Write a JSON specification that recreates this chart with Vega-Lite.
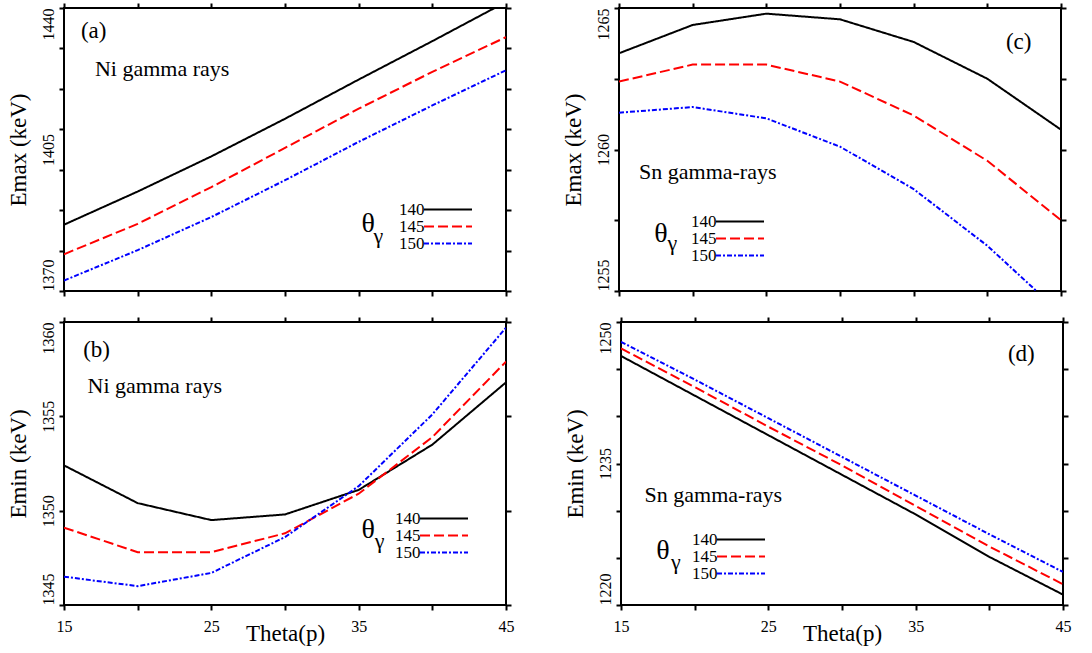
{
  "$schema": "https://vega.github.io/schema/vega-lite/v6.json",
  "background": "white",
  "padding": {"left": 6, "top": 1, "right": 5, "bottom": 0},
  "datasets": {
    "curves": [
      {"panel": "a", "gamma": "140", "theta": 15, "E": 1386.4},
      {"panel": "a", "gamma": "140", "theta": 20, "E": 1394.6},
      {"panel": "a", "gamma": "140", "theta": 25, "E": 1403.3},
      {"panel": "a", "gamma": "140", "theta": 30, "E": 1412.6},
      {"panel": "a", "gamma": "140", "theta": 35, "E": 1422.3},
      {"panel": "a", "gamma": "140", "theta": 40, "E": 1431.8},
      {"panel": "a", "gamma": "140", "theta": 45, "E": 1441.5},
      {"panel": "a", "gamma": "145", "theta": 15, "E": 1379.1},
      {"panel": "a", "gamma": "145", "theta": 20, "E": 1386.6},
      {"panel": "a", "gamma": "145", "theta": 25, "E": 1395.7},
      {"panel": "a", "gamma": "145", "theta": 30, "E": 1405.4},
      {"panel": "a", "gamma": "145", "theta": 35, "E": 1415.1},
      {"panel": "a", "gamma": "145", "theta": 40, "E": 1424.2},
      {"panel": "a", "gamma": "145", "theta": 45, "E": 1432.8},
      {"panel": "a", "gamma": "150", "theta": 15, "E": 1372.6},
      {"panel": "a", "gamma": "150", "theta": 20, "E": 1380.1},
      {"panel": "a", "gamma": "150", "theta": 25, "E": 1388.3},
      {"panel": "a", "gamma": "150", "theta": 30, "E": 1397.4},
      {"panel": "a", "gamma": "150", "theta": 35, "E": 1406.9},
      {"panel": "a", "gamma": "150", "theta": 40, "E": 1415.9},
      {"panel": "a", "gamma": "150", "theta": 45, "E": 1424.6},
      {"panel": "b", "gamma": "140", "theta": 15, "E": 1352.4},
      {"panel": "b", "gamma": "140", "theta": 20, "E": 1350.4},
      {"panel": "b", "gamma": "140", "theta": 25, "E": 1349.5},
      {"panel": "b", "gamma": "140", "theta": 30, "E": 1349.8},
      {"panel": "b", "gamma": "140", "theta": 35, "E": 1351.1},
      {"panel": "b", "gamma": "140", "theta": 40, "E": 1353.5},
      {"panel": "b", "gamma": "140", "theta": 45, "E": 1356.8},
      {"panel": "b", "gamma": "145", "theta": 15, "E": 1349.1},
      {"panel": "b", "gamma": "145", "theta": 20, "E": 1347.8},
      {"panel": "b", "gamma": "145", "theta": 25, "E": 1347.8},
      {"panel": "b", "gamma": "145", "theta": 30, "E": 1348.8},
      {"panel": "b", "gamma": "145", "theta": 35, "E": 1350.9},
      {"panel": "b", "gamma": "145", "theta": 40, "E": 1353.9},
      {"panel": "b", "gamma": "145", "theta": 45, "E": 1357.9},
      {"panel": "b", "gamma": "150", "theta": 15, "E": 1346.5},
      {"panel": "b", "gamma": "150", "theta": 20, "E": 1346.0},
      {"panel": "b", "gamma": "150", "theta": 25, "E": 1346.7},
      {"panel": "b", "gamma": "150", "theta": 30, "E": 1348.6},
      {"panel": "b", "gamma": "150", "theta": 35, "E": 1351.3},
      {"panel": "b", "gamma": "150", "theta": 40, "E": 1355.1},
      {"panel": "b", "gamma": "150", "theta": 45, "E": 1359.7},
      {"panel": "c", "gamma": "140", "theta": 15, "E": 1263.4},
      {"panel": "c", "gamma": "140", "theta": 20, "E": 1264.4},
      {"panel": "c", "gamma": "140", "theta": 25, "E": 1264.8},
      {"panel": "c", "gamma": "140", "theta": 30, "E": 1264.6},
      {"panel": "c", "gamma": "140", "theta": 35, "E": 1263.8},
      {"panel": "c", "gamma": "140", "theta": 40, "E": 1262.5},
      {"panel": "c", "gamma": "140", "theta": 45, "E": 1260.7},
      {"panel": "c", "gamma": "145", "theta": 15, "E": 1262.4},
      {"panel": "c", "gamma": "145", "theta": 20, "E": 1263.0},
      {"panel": "c", "gamma": "145", "theta": 25, "E": 1263.0},
      {"panel": "c", "gamma": "145", "theta": 30, "E": 1262.4},
      {"panel": "c", "gamma": "145", "theta": 35, "E": 1261.2},
      {"panel": "c", "gamma": "145", "theta": 40, "E": 1259.6},
      {"panel": "c", "gamma": "145", "theta": 45, "E": 1257.5},
      {"panel": "c", "gamma": "150", "theta": 15, "E": 1261.3},
      {"panel": "c", "gamma": "150", "theta": 20, "E": 1261.5},
      {"panel": "c", "gamma": "150", "theta": 25, "E": 1261.1},
      {"panel": "c", "gamma": "150", "theta": 30, "E": 1260.1},
      {"panel": "c", "gamma": "150", "theta": 35, "E": 1258.6},
      {"panel": "c", "gamma": "150", "theta": 40, "E": 1256.6},
      {"panel": "c", "gamma": "150", "theta": 45, "E": 1254.2},
      {"panel": "d", "gamma": "140", "theta": 15, "E": 1246.4},
      {"panel": "d", "gamma": "140", "theta": 20, "E": 1242.2},
      {"panel": "d", "gamma": "140", "theta": 25, "E": 1238.0},
      {"panel": "d", "gamma": "140", "theta": 30, "E": 1233.8},
      {"panel": "d", "gamma": "140", "theta": 35, "E": 1229.6},
      {"panel": "d", "gamma": "140", "theta": 40, "E": 1225.1},
      {"panel": "d", "gamma": "140", "theta": 45, "E": 1221.1},
      {"panel": "d", "gamma": "145", "theta": 15, "E": 1247.2},
      {"panel": "d", "gamma": "145", "theta": 20, "E": 1243.1},
      {"panel": "d", "gamma": "145", "theta": 25, "E": 1238.9},
      {"panel": "d", "gamma": "145", "theta": 30, "E": 1234.8},
      {"panel": "d", "gamma": "145", "theta": 35, "E": 1230.5},
      {"panel": "d", "gamma": "145", "theta": 40, "E": 1226.2},
      {"panel": "d", "gamma": "145", "theta": 45, "E": 1222.2},
      {"panel": "d", "gamma": "150", "theta": 15, "E": 1247.9},
      {"panel": "d", "gamma": "150", "theta": 20, "E": 1243.9},
      {"panel": "d", "gamma": "150", "theta": 25, "E": 1239.8},
      {"panel": "d", "gamma": "150", "theta": 30, "E": 1235.7},
      {"panel": "d", "gamma": "150", "theta": 35, "E": 1231.6},
      {"panel": "d", "gamma": "150", "theta": 40, "E": 1227.5},
      {"panel": "d", "gamma": "150", "theta": 45, "E": 1223.5}
    ]
  },
  "spacing": 17,
  "resolve": {"legend": {"color": "independent", "strokeDash": "independent"}},
  "vconcat": [
    {
      "spacing": 48,
      "resolve": {"legend": {"color": "independent", "strokeDash": "independent"}},
      "hconcat": [
        {
          "width": 442, "height": 283,
          "resolve": {"axis": {"x": "independent", "y": "independent"}},
          "layer": [
            {
              "data": {"name": "curves"},
              "transform": [{"filter": "datum.panel == 'a'"}],
              "mark": {"type": "line", "clip": true, "strokeWidth": 2},
              "encoding": {
                "x": {"field": "theta", "type": "quantitative", "scale": {"domain": [15, 45], "nice": false, "zero": false},
                      "axis": {"values": [15, 20, 25, 30, 35, 40, 45], "labels": false, "title": null}},
                "y": {"field": "E", "type": "quantitative", "scale": {"domain": [1370, 1440], "nice": false, "zero": false},
                      "axis": {"values": [1370, 1380, 1390, 1400, 1405, 1410, 1420, 1430, 1440],
                               "labelExpr": "(datum.value == 1370 || datum.value == 1405 || datum.value == 1440) ? datum.label : ''",
                               "tickOpacity": {"condition": {"test": "datum.value == 1405", "value": 0}, "value": 1},
                               "labelAlign": {"condition": [{"test": "datum.value == 1440", "value": "right"}, {"test": "datum.value == 1370", "value": "left"}], "value": "center"},
                               "title": "Emax (keV)"}},
                "color": {"field": "gamma", "type": "nominal", "scale": {"domain": ["140", "145", "150"], "range": ["#000000", "#ff0000", "#0000ff"]},
                          "legend": {"orient": "none", "legendX": 360, "legendY": 193}},
                "strokeDash": {"field": "gamma", "type": "nominal", "scale": {"domain": ["140", "145", "150"], "range": [[1, 0], [10, 4], [5, 2, 2, 2]]},
                               "legend": {"orient": "none", "legendX": 360, "legendY": 193}}
              }
            },
            {
              "data": {"name": "curves"},
              "transform": [{"filter": "datum.panel == 'a'"}],
              "mark": {"type": "point", "opacity": 0, "clip": true},
              "encoding": {
                "x": {"field": "theta", "type": "quantitative", "scale": {"domain": [15, 45], "nice": false, "zero": false},
                      "axis": {"orient": "top", "values": [15, 20, 25, 30, 35, 40, 45], "labels": false, "title": null}},
                "y": {"field": "E", "type": "quantitative", "scale": {"domain": [1370, 1440], "nice": false, "zero": false},
                      "axis": {"orient": "right", "values": [1370, 1380, 1390, 1400, 1410, 1420, 1430, 1440], "labels": false, "title": null}}
              }
            },
            {
              "data": {"values": [{}]},
              "mark": {"type": "text", "align": "left", "baseline": "middle", "fontSize": 23},
              "encoding": {"x": {"datum": 16.15, "type": "quantitative", "axis": null}, "y": {"datum": 1434.3, "type": "quantitative", "axis": null}, "text": {"value": "(a)"}}
            },
            {
              "data": {"values": [{}]},
              "mark": {"type": "text", "align": "left", "baseline": "middle", "fontSize": 22},
              "encoding": {"x": {"datum": 17.1, "type": "quantitative", "axis": null}, "y": {"datum": 1425, "type": "quantitative", "axis": null}, "text": {"value": "Ni gamma rays"}}
            },
            {
              "data": {"values": [{}]},
              "mark": {"type": "text", "align": "left", "baseline": "middle", "fontSize": 28},
              "encoding": {"x": {"datum": 35.2, "type": "quantitative", "axis": null}, "y": {"datum": 1386.6, "type": "quantitative", "axis": null}, "text": {"value": "θ"}}
            },
            {
              "data": {"values": [{}]},
              "mark": {"type": "text", "align": "left", "baseline": "middle", "fontSize": 22},
              "encoding": {"x": {"datum": 36.0, "type": "quantitative", "axis": null}, "y": {"datum": 1383.6, "type": "quantitative", "axis": null}, "text": {"value": "γ"}}
            }
          ]
        },
        {
          "width": 442, "height": 283,
          "resolve": {"axis": {"x": "independent", "y": "independent"}},
          "layer": [
            {
              "data": {"name": "curves"},
              "transform": [{"filter": "datum.panel == 'c'"}],
              "mark": {"type": "line", "clip": true, "strokeWidth": 2},
              "encoding": {
                "x": {"field": "theta", "type": "quantitative", "scale": {"domain": [15, 45], "nice": false, "zero": false},
                      "axis": {"values": [15, 20, 25, 30, 35, 40, 45], "labels": false, "title": null}},
                "y": {"field": "E", "type": "quantitative", "scale": {"domain": [1255, 1265], "nice": false, "zero": false},
                      "axis": {"values": [1255, 1257.5, 1260, 1262.5, 1265],
                               "labelExpr": "(datum.value % 5 == 0) ? datum.label : ''",
                               "labelAlign": {"condition": [{"test": "datum.value == 1265", "value": "right"}, {"test": "datum.value == 1255", "value": "left"}], "value": "center"},
                               "title": "Emax (keV)"}},
                "color": {"field": "gamma", "type": "nominal", "scale": {"domain": ["140", "145", "150"], "range": ["#000000", "#ff0000", "#0000ff"]},
                          "legend": {"orient": "none", "legendX": 97, "legendY": 205}},
                "strokeDash": {"field": "gamma", "type": "nominal", "scale": {"domain": ["140", "145", "150"], "range": [[1, 0], [10, 4], [5, 2, 2, 2]]},
                               "legend": {"orient": "none", "legendX": 97, "legendY": 205}}
              }
            },
            {
              "data": {"name": "curves"},
              "transform": [{"filter": "datum.panel == 'c'"}],
              "mark": {"type": "point", "opacity": 0, "clip": true},
              "encoding": {
                "x": {"field": "theta", "type": "quantitative", "scale": {"domain": [15, 45], "nice": false, "zero": false},
                      "axis": {"orient": "top", "values": [15, 20, 25, 30, 35, 40, 45], "labels": false, "title": null}},
                "y": {"field": "E", "type": "quantitative", "scale": {"domain": [1255, 1265], "nice": false, "zero": false},
                      "axis": {"orient": "right", "values": [1255, 1257.5, 1260, 1262.5, 1265], "labels": false, "title": null}}
              }
            },
            {
              "data": {"values": [{}]},
              "mark": {"type": "text", "align": "left", "baseline": "middle", "fontSize": 23},
              "encoding": {"x": {"datum": 41.26, "type": "quantitative", "axis": null}, "y": {"datum": 1263.8, "type": "quantitative", "axis": null}, "text": {"value": "(c)"}}
            },
            {
              "data": {"values": [{}]},
              "mark": {"type": "text", "align": "left", "baseline": "middle", "fontSize": 22},
              "encoding": {"x": {"datum": 16.36, "type": "quantitative", "axis": null}, "y": {"datum": 1259.2, "type": "quantitative", "axis": null}, "text": {"value": "Sn gamma-rays"}}
            },
            {
              "data": {"values": [{}]},
              "mark": {"type": "text", "align": "left", "baseline": "middle", "fontSize": 28},
              "encoding": {"x": {"datum": 17.4, "type": "quantitative", "axis": null}, "y": {"datum": 1257.0, "type": "quantitative", "axis": null}, "text": {"value": "θ"}}
            },
            {
              "data": {"values": [{}]},
              "mark": {"type": "text", "align": "left", "baseline": "middle", "fontSize": 22},
              "encoding": {"x": {"datum": 18.3, "type": "quantitative", "axis": null}, "y": {"datum": 1256.7, "type": "quantitative", "axis": null}, "text": {"value": "γ"}}
            }
          ]
        }
      ]
    },
    {
      "spacing": 48,
      "resolve": {"legend": {"color": "independent", "strokeDash": "independent"}},
      "hconcat": [
        {
          "width": 442, "height": 283,
          "resolve": {"axis": {"x": "independent", "y": "independent"}},
          "layer": [
            {
              "data": {"name": "curves"},
              "transform": [{"filter": "datum.panel == 'b'"}],
              "mark": {"type": "line", "clip": true, "strokeWidth": 2},
              "encoding": {
                "x": {"field": "theta", "type": "quantitative", "scale": {"domain": [15, 45], "nice": false, "zero": false},
                      "axis": {"values": [15, 20, 25, 30, 35, 40, 45], "labelExpr": "(datum.value % 10 == 5) ? datum.label : ''", "title": "Theta(p)"}},
                "y": {"field": "E", "type": "quantitative", "scale": {"domain": [1345, 1360], "nice": false, "zero": false},
                      "axis": {"values": [1345, 1350, 1355, 1360],
                               "labelAlign": {"condition": [{"test": "datum.value == 1360", "value": "right"}, {"test": "datum.value == 1345", "value": "left"}], "value": "center"},
                               "title": "Emin (keV)"}},
                "color": {"field": "gamma", "type": "nominal", "scale": {"domain": ["140", "145", "150"], "range": ["#000000", "#ff0000", "#0000ff"]},
                          "legend": {"orient": "none", "legendX": 356, "legendY": 188}},
                "strokeDash": {"field": "gamma", "type": "nominal", "scale": {"domain": ["140", "145", "150"], "range": [[1, 0], [10, 4], [5, 2, 2, 2]]},
                               "legend": {"orient": "none", "legendX": 356, "legendY": 188}}
              }
            },
            {
              "data": {"name": "curves"},
              "transform": [{"filter": "datum.panel == 'b'"}],
              "mark": {"type": "point", "opacity": 0, "clip": true},
              "encoding": {
                "x": {"field": "theta", "type": "quantitative", "scale": {"domain": [15, 45], "nice": false, "zero": false},
                      "axis": {"orient": "top", "values": [15, 20, 25, 30, 35, 40, 45], "labels": false, "title": null}},
                "y": {"field": "E", "type": "quantitative", "scale": {"domain": [1345, 1360], "nice": false, "zero": false},
                      "axis": {"orient": "right", "values": [1345, 1350, 1355, 1360], "labels": false, "title": null}}
              }
            },
            {
              "data": {"values": [{}]},
              "mark": {"type": "text", "align": "left", "baseline": "middle", "fontSize": 23},
              "encoding": {"x": {"datum": 16.3, "type": "quantitative", "axis": null}, "y": {"datum": 1358.5, "type": "quantitative", "axis": null}, "text": {"value": "(b)"}}
            },
            {
              "data": {"values": [{}]},
              "mark": {"type": "text", "align": "left", "baseline": "middle", "fontSize": 22},
              "encoding": {"x": {"datum": 16.6, "type": "quantitative", "axis": null}, "y": {"datum": 1356.6, "type": "quantitative", "axis": null}, "text": {"value": "Ni gamma rays"}}
            },
            {
              "data": {"values": [{}]},
              "mark": {"type": "text", "align": "left", "baseline": "middle", "fontSize": 28},
              "encoding": {"x": {"datum": 35.2, "type": "quantitative", "axis": null}, "y": {"datum": 1349.0, "type": "quantitative", "axis": null}, "text": {"value": "θ"}}
            },
            {
              "data": {"values": [{}]},
              "mark": {"type": "text", "align": "left", "baseline": "middle", "fontSize": 22},
              "encoding": {"x": {"datum": 36.1, "type": "quantitative", "axis": null}, "y": {"datum": 1348.4, "type": "quantitative", "axis": null}, "text": {"value": "γ"}}
            }
          ]
        },
        {
          "width": 442, "height": 283,
          "resolve": {"axis": {"x": "independent", "y": "independent"}},
          "layer": [
            {
              "data": {"name": "curves"},
              "transform": [{"filter": "datum.panel == 'd'"}],
              "mark": {"type": "line", "clip": true, "strokeWidth": 2},
              "encoding": {
                "x": {"field": "theta", "type": "quantitative", "scale": {"domain": [15, 45], "nice": false, "zero": false},
                      "axis": {"values": [15, 20, 25, 30, 35, 40, 45], "labelExpr": "(datum.value % 10 == 5) ? datum.label : ''", "title": "Theta(p)"}},
                "y": {"field": "E", "type": "quantitative", "scale": {"domain": [1220, 1250], "nice": false, "zero": false},
                      "axis": {"values": [1220, 1225, 1230, 1235, 1240, 1245, 1250],
                               "labelExpr": "(datum.value == 1220 || datum.value == 1235 || datum.value == 1250) ? datum.label : ''",
                               "labelAlign": {"condition": [{"test": "datum.value == 1250", "value": "right"}, {"test": "datum.value == 1220", "value": "left"}], "value": "center"},
                               "title": "Emin (keV)"}},
                "color": {"field": "gamma", "type": "nominal", "scale": {"domain": ["140", "145", "150"], "range": ["#000000", "#ff0000", "#0000ff"]},
                          "legend": {"orient": "none", "legendX": 96, "legendY": 209}},
                "strokeDash": {"field": "gamma", "type": "nominal", "scale": {"domain": ["140", "145", "150"], "range": [[1, 0], [10, 4], [5, 2, 2, 2]]},
                               "legend": {"orient": "none", "legendX": 96, "legendY": 209}}
              }
            },
            {
              "data": {"name": "curves"},
              "transform": [{"filter": "datum.panel == 'd'"}],
              "mark": {"type": "point", "opacity": 0, "clip": true},
              "encoding": {
                "x": {"field": "theta", "type": "quantitative", "scale": {"domain": [15, 45], "nice": false, "zero": false},
                      "axis": {"orient": "top", "values": [15, 20, 25, 30, 35, 40, 45], "labels": false, "title": null}},
                "y": {"field": "E", "type": "quantitative", "scale": {"domain": [1220, 1250], "nice": false, "zero": false},
                      "axis": {"orient": "right", "values": [1220, 1225, 1230, 1235, 1240, 1245, 1250], "labels": false, "title": null}}
              }
            },
            {
              "data": {"values": [{}]},
              "mark": {"type": "text", "align": "left", "baseline": "middle", "fontSize": 23},
              "encoding": {"x": {"datum": 41.26, "type": "quantitative", "axis": null}, "y": {"datum": 1246.6, "type": "quantitative", "axis": null}, "text": {"value": "(d)"}}
            },
            {
              "data": {"values": [{}]},
              "mark": {"type": "text", "align": "left", "baseline": "middle", "fontSize": 22},
              "encoding": {"x": {"datum": 16.6, "type": "quantitative", "axis": null}, "y": {"datum": 1231.7, "type": "quantitative", "axis": null}, "text": {"value": "Sn gamma-rays"}}
            },
            {
              "data": {"values": [{}]},
              "mark": {"type": "text", "align": "left", "baseline": "middle", "fontSize": 28},
              "encoding": {"x": {"datum": 17.4, "type": "quantitative", "axis": null}, "y": {"datum": 1225.7, "type": "quantitative", "axis": null}, "text": {"value": "θ"}}
            },
            {
              "data": {"values": [{}]},
              "mark": {"type": "text", "align": "left", "baseline": "middle", "fontSize": 22},
              "encoding": {"x": {"datum": 18.4, "type": "quantitative", "axis": null}, "y": {"datum": 1224.6, "type": "quantitative", "axis": null}, "text": {"value": "γ"}}
            }
          ]
        }
      ]
    }
  ],
  "config": {
    "font": "Liberation Serif, Times New Roman, serif",
    "view": {"stroke": "#000000", "strokeWidth": 2},
    "axis": {
      "domain": false, "grid": false, "format": "d",
      "tickColor": "#000000", "tickWidth": 2, "tickSize": 5,
      "labelFont": "Liberation Serif, Times New Roman, serif", "labelFontSize": 16, "labelColor": "#000000", "labelOverlap": false, "labelFlush": false,
      "titleFont": "Liberation Serif, Times New Roman, serif", "titleFontSize": 23, "titleFontWeight": "normal", "titleColor": "#000000"
    },
    "axisY": {"labelAngle": -90, "labelBaseline": "bottom", "labelPadding": 3, "titlePadding": 10},
    "axisX": {"labelPadding": 8, "titlePadding": -12},
    "legend": {
      "title": null,
      "symbolType": "M-4,0L4,0", "symbolSize": 144, "symbolStrokeWidth": 2, "symbolOffset": 15.5,
      "rowPadding": -4,
      "labelFont": "Liberation Serif, Times New Roman, serif", "labelFontSize": 17, "labelColor": "#000000",
      "labelAlign": "right", "labelOffset": -32
    },
    "text": {"font": "Liberation Serif, Times New Roman, serif", "color": "#000000"}
  }
}
